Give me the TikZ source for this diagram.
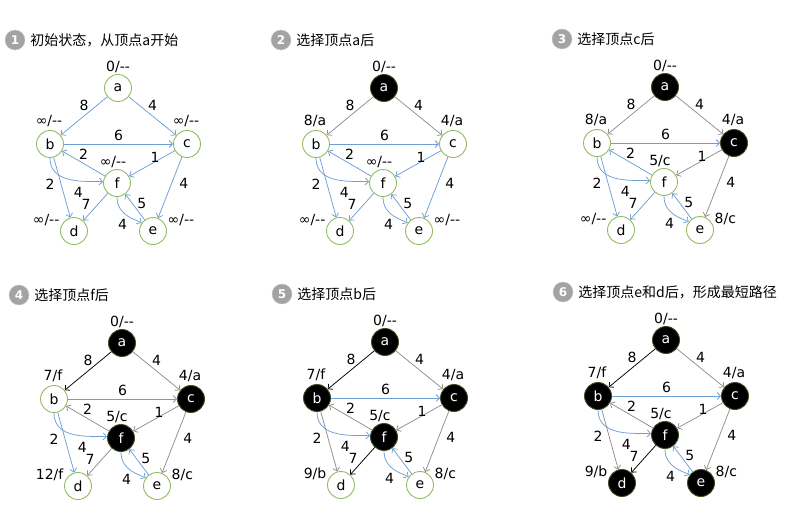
\documentclass[tikz,border=0pt]{standalone}
\usepackage{fontspec}
\setmainfont{DejaVu Sans}
\newfontfamily\cjkfont{Noto Sans CJK SC}
\usetikzlibrary{arrows.meta, positioning}

\definecolor{edgeblue}{HTML}{6D9ED4}
\definecolor{edgegrey}{HTML}{8E8E8E}
\definecolor{ringgreen}{HTML}{94BC62}
\definecolor{ringdark}{HTML}{3E4F22}
\definecolor{badgegrey}{HTML}{A3A3A3}

\tikzset{
  vertex/.style={circle, draw=ringgreen, line width=0.9pt, fill=white, minimum size=27pt,
    inner sep=0pt, font=\fontsize{14}{16}\selectfont, label distance=2pt},
  done/.style={fill=black, draw=ringdark, text=white},
  dist/.style={font=\fontsize{14}{16}\selectfont, inner sep=1pt},
  wt/.style={font=\fontsize{14}{16}\selectfont, inner sep=1pt},
  edge/.style={draw=edgeblue, line width=0.75pt, -{Straight Barb[length=3.5pt, width=7pt]}},
  greyedge/.style={draw=edgegrey},
  pathedge/.style={draw=black},
  badge/.style={circle, fill=badgegrey, draw=badgegrey!60, text=white, minimum size=20pt,
    inner sep=0pt, font=\bfseries\fontsize{12}{12}\selectfont},
  caption/.style={inner sep=0pt, font=\cjkfont\fontsize{14}{16}\selectfont},
  % per-step looks, overridden in each step
  na/.style={}, nb/.style={}, nc/.style={}, nd/.style={}, ne/.style={}, nf/.style={},
  eab/.style={}, eac/.style={}, ebc/.style={}, efb/.style={}, ebf/.style={}, ebd/.style={},
  efd/.style={}, ecf/.style={}, ece/.style={}, eef/.style={}, efe/.style={}
}

\newcommand{\nolab}{∞/-{}-}

% #1 position of a, #2 step, #3 caption, #4-#8 labels of b,c,d,e,f, #9 looks of this step
\newcommand{\dijkstep}[9]{%
  \begin{scope}[shift={#1}, name prefix=s#2-, #9]
    \node[badge] (num) at (-103,-48) {#2};
    \node[caption, right=5pt of num] (cap) {#3};
    \node[vertex, na, label={[dist]90:0/-{}-}] (a) at (0,0) {a};
    \node[vertex, nb, label={[dist, yshift=2.5pt, xshift=-1pt]90:#4}] (b) at (-68,56) {b};
    \node[vertex, nc, label={[dist, yshift=2.5pt, xshift=-1pt]90:#5}] (c) at (69,56) {c};
    \node[vertex, nf, label={[dist, xshift=-4pt]90:#8}] (f) at (-1,95) {f};
    \node[vertex, nd, label={[dist]165:#6}] (d) at (-44,143) {d};
    \node[vertex, ne, label={[dist]15:#7}] (e) at (35,143) {e};
    \draw[edge, eab] (a) -- node[wt, above=4pt] {8} (b);
    \draw[edge, eac] (a) -- node[wt, above=4pt] {4} (c);
    \draw[edge, ebc] (b) -- node[wt, above=2pt] {6} (c);
    \draw[edge, efb] (f) -- node[wt, above=2.5pt] {2} (b);
    \draw[edge, ebf] (b) to[out=-90, in=175] node[wt, pos=0.6, below=5pt] {4} (f);
    \draw[edge, ebd] (b) -- node[wt, left=6pt, yshift=3.5pt] {2} (d);
    \draw[edge, efd] (f) -- node[wt, left=3.5pt, yshift=3pt] {7} (d);
    \draw[edge, ecf] (c) -- node[wt, above=0pt, xshift=3pt] {1} (f);
    \draw[edge, ece] (c) -- node[wt, right=8pt, yshift=4.5pt] {4} (e);
    \draw[edge, eef] (e) -- node[wt, right=1pt, yshift=4pt] {5} (f);
    \draw[edge, efe] (f) to[out=-90, in=145] node[wt, below=2pt, xshift=-5pt] {4} (e);
  \end{scope}}

\begin{document}
\begin{tikzpicture}[x=1pt, y=-1pt]
\useasboundingbox (0,0) rectangle (793,515);

\dijkstep{(118,88)}{1}{初始状态，从顶点a开始}{\nolab}{\nolab}{\nolab}{\nolab}{\nolab}{}
\dijkstep{(384,88)}{2}{选择顶点a后}{8/a}{4/a}{\nolab}{\nolab}{\nolab}
  {na/.style=done, eab/.style=greyedge, eac/.style=greyedge}
\dijkstep{(665,87)}{3}{选择顶点c后}{8/a}{4/a}{\nolab}{8/c}{5/c}
  {na/.style=done, nc/.style=done, eab/.style=greyedge, eac/.style=greyedge,
   ecf/.style=greyedge, ece/.style=greyedge}
\dijkstep{(122,343)}{4}{选择顶点f后}{7/f}{4/a}{12/f}{8/c}{5/c}
  {na/.style=done, nc/.style=done, nf/.style=done, eab/.style=pathedge,
   eac/.style=greyedge, ecf/.style=greyedge, ece/.style=greyedge,
   efb/.style=greyedge, efd/.style=greyedge}
\dijkstep{(385,342)}{5}{选择顶点b后}{7/f}{4/a}{9/b}{8/c}{5/c}
  {na/.style=done, nb/.style=done, nc/.style=done, nf/.style=done,
   eab/.style=pathedge, efd/.style=pathedge, eac/.style=greyedge, ecf/.style=greyedge,
   ece/.style=greyedge, efb/.style=greyedge, ebd/.style=greyedge}
\dijkstep{(666,340)}{6}{选择顶点e和d后，形成最短路径}{7/f}{4/a}{9/b}{8/c}{5/c}
  {na/.style=done, nb/.style=done, nc/.style=done, nd/.style=done, ne/.style=done,
   nf/.style=done, eab/.style=pathedge, efd/.style=pathedge, eac/.style=greyedge,
   ecf/.style=greyedge, ece/.style=greyedge, efb/.style=greyedge, ebd/.style=greyedge}
\end{tikzpicture}
\end{document}
